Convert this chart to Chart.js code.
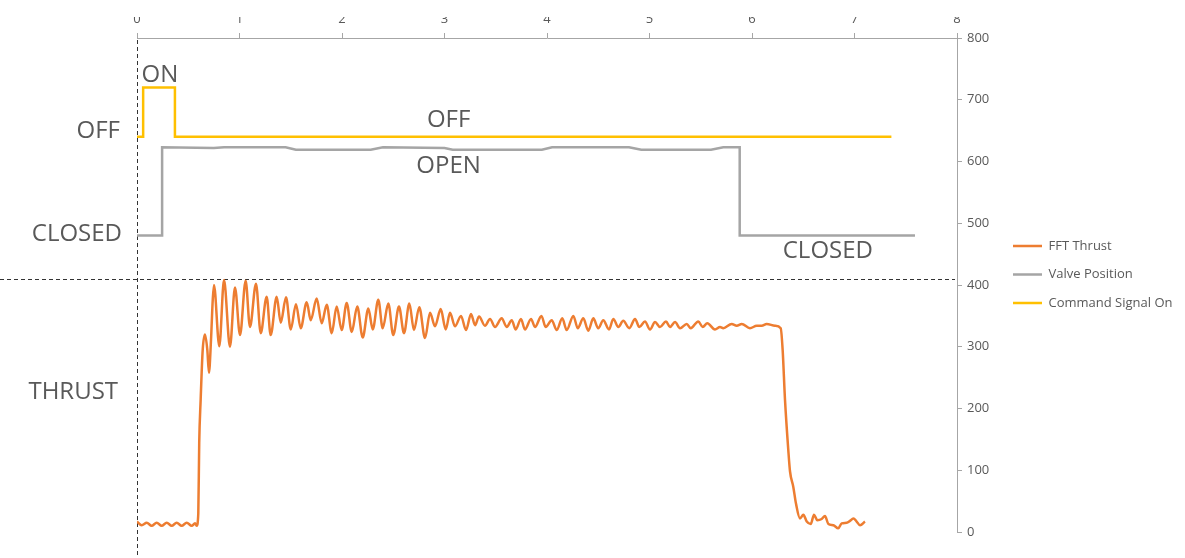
<!DOCTYPE html>
<html>
<head>
<meta charset="utf-8">
<script src="https://cdn.jsdelivr.net/npm/chart.js@4.4.1/dist/chart.umd.min.js"></script>
<style>
  html, body { margin: 0; padding: 0; background: #ffffff; }
  #wrap { width: 1185px; height: 558px; }
</style>
</head>
<body>
<div id="wrap"><canvas id="c" width="1185" height="558"></canvas></div>
<script>
// ---- data ----
const seriesNames = ['FFT Thrust', 'Valve Position', 'Command Signal On'];
const xTicks = [0, 1, 2, 3, 4, 5, 6, 7, 8];
const yTicks = [0, 100, 200, 300, 400, 500, 600, 700, 800];

// thrust trace, time (s) of each turning point and its value
const thrustTime = [
  0.000, 0.046, 0.095, 0.143, 0.192, 0.241, 0.290, 0.339, 0.387, 0.436, 0.485, 0.534, 0.566, 0.582,
  0.598, 0.607, 0.621, 0.641, 0.663, 0.686, 0.702, 0.722, 0.739,
  0.751, 0.803, 0.849, 0.907, 0.956, 1.005, 1.060, 1.102, 1.161, 1.207, 1.265, 1.304, 1.363, 1.402,
  1.454, 1.500, 1.551, 1.597, 1.656, 1.695, 1.753, 1.802, 1.851, 1.900, 1.948, 1.997, 2.046, 2.095,
  2.149, 2.202, 2.257, 2.300, 2.354, 2.397, 2.452, 2.500, 2.556, 2.605, 2.657, 2.702, 2.754, 2.810,
  2.859, 2.907, 2.963, 3.012, 3.054, 3.102, 3.161, 3.210, 3.259, 3.298, 3.337, 3.395, 3.444, 3.493,
  3.558, 3.607, 3.656, 3.695, 3.746, 3.785, 3.844, 3.883, 3.946, 3.987, 4.046, 4.095, 4.149, 4.192,
  4.257, 4.300, 4.354, 4.403, 4.452, 4.500, 4.549, 4.605, 4.647, 4.696, 4.744, 4.803, 4.859, 4.901,
  4.956, 5.005, 5.054, 5.102, 5.161, 5.200, 5.249, 5.298, 5.363, 5.402, 5.476, 5.519, 5.564, 5.639,
  5.688, 5.720, 5.802, 5.851, 5.900, 5.980, 6.046, 6.095, 6.143, 6.224, 6.280,
  6.299, 6.322, 6.354, 6.371, 6.403, 6.429, 6.468, 6.501, 6.534, 6.573, 6.605, 6.637, 6.680, 6.712,
  6.745, 6.793, 6.842, 6.875, 6.924, 6.956, 6.989, 7.021, 7.054, 7.102
];
const thrustValue = [
  17, 11, 15, 10, 15, 10, 15, 10, 15, 10, 15, 10, 14, 10,
  30, 144, 214, 295, 320, 295, 258, 311, 376,
  400, 301, 408, 300, 396, 319, 407, 332, 402, 322, 381, 319, 381, 339,
  380, 328, 369, 330, 372, 343, 378, 338, 368, 322, 365, 327, 371, 324,
  365, 315, 362, 328, 376, 330, 370, 319, 365, 322, 370, 327, 364, 314,
  355, 333, 361, 328, 355, 333, 350, 327, 353, 335, 349, 334, 345, 332,
  346, 332, 343, 328, 345, 328, 345, 332, 350, 332, 343, 327, 346, 327,
  350, 330, 346, 326, 346, 330, 343, 328, 345, 332, 342, 330, 345, 332,
  341, 328, 340, 332, 341, 332, 340, 330, 337, 330, 341, 332, 338, 328,
  332, 330, 337, 334, 337, 330, 334, 334, 337, 334, 330,
  295, 214, 133, 98, 73, 46, 22, 28, 17, 13, 28, 19, 21, 26,
  13, 11, 6, 14, 15, 18, 22, 17, 11, 17
];

// valve position trace
const valveTime  = [0, 0.245, 0.245, 0.75, 0.85, 1.45, 1.55, 2.28, 2.40, 3.00, 3.08, 3.95, 4.05, 4.80, 4.92, 5.60, 5.72, 5.88, 5.88, 7.59];
const valveValue = [480, 480, 623, 622, 623, 623, 619, 619, 623, 622, 619, 619, 623, 623, 619, 619, 623, 623, 480, 480];

// command signal trace
const commandTime  = [0, 0.06, 0.06, 0.37, 0.37, 7.36];
const commandValue = [640, 640, 720, 720, 640, 640];

// state labels written on the plot, anchored in axis units
const stateLabels = [
  { text: 'ON',     t: 0.224,  v: 740, align: 'center' },
  { text: 'OFF',    t: -0.166, v: 649, align: 'right' },
  { text: 'CLOSED', t: -0.146, v: 483, align: 'right' },
  { text: 'THRUST', t: -0.185, v: 227, align: 'right' },
  { text: 'OFF',    t: 3.04,   v: 667, align: 'center' },
  { text: 'OPEN',   t: 3.04,   v: 593, align: 'center' },
  { text: 'CLOSED', t: 6.74,   v: 455, align: 'center' }
];
const splitLevel = 410;   // horizontal divider between the signal and thrust panels

// ---- chart ----
const zip = (xs, ys) => xs.map((x, i) => ({ x: x, y: ys[i] }));

const TEXT = '#595959';
const AXIS = '#a6a6a6';
const FONT = '"Open Sans", "Noto Sans", sans-serif';

// legend geometry
const legendFont = 13, legendPad = 15.5, legendBox = 29;
const mctx = document.createElement('canvas').getContext('2d');
mctx.font = legendFont + 'px ' + FONT;
const longest = Math.max(...seriesNames.map(s => mctx.measureText(s).width));
const legendWidth = legendPad + legendBox + legendFont / 2 + longest + 10;
const legendLeft = 1013 - legendPad;
const plotRight = 957;
const padRight = Math.max(0, 1185 - legendLeft - legendWidth);

const overlay = {
  id: 'overlay',
  beforeDatasetsDraw(chart) {
    const { ctx, chartArea, scales: { x, y } } = chart;
    ctx.save();
    ctx.strokeStyle = '#333333';
    ctx.lineWidth = 1;
    ctx.setLineDash([4, 3]);
    const x0 = Math.round(x.getPixelForValue(0)) + 0.5;
    ctx.beginPath();
    ctx.moveTo(x0, chartArea.top + 2);
    ctx.lineTo(x0, chart.height);
    ctx.stroke();
    const ys = Math.round(y.getPixelForValue(splitLevel)) + 0.5;
    ctx.beginPath();
    ctx.moveTo(0, ys);
    ctx.lineTo(chartArea.right - 2, ys);
    ctx.stroke();
    ctx.restore();
  },
  afterDatasetsDraw(chart) {
    const { ctx, scales: { x, y } } = chart;
    ctx.save();
    ctx.fillStyle = TEXT;
    ctx.font = '24px ' + FONT;
    ctx.textBaseline = 'middle';
    stateLabels.forEach(l => {
      ctx.textAlign = l.align;
      ctx.fillText(l.text, x.getPixelForValue(l.t), y.getPixelForValue(l.v));
    });
    ctx.restore();
  }
};

new Chart(document.getElementById('c'), {
  type: 'line',
  data: {
    datasets: [
      {
        label: seriesNames[0],
        data: zip(thrustTime, thrustValue),
        borderColor: '#ED7D31',
        backgroundColor: '#ED7D31',
        borderWidth: 2.5,
        pointRadius: 0,
        cubicInterpolationMode: 'monotone'
      },
      {
        label: seriesNames[1],
        data: zip(valveTime, valveValue),
        borderColor: '#A5A5A5',
        backgroundColor: '#A5A5A5',
        borderWidth: 2.5,
        pointRadius: 0,
        tension: 0
      },
      {
        label: seriesNames[2],
        data: zip(commandTime, commandValue),
        borderColor: '#FFC000',
        backgroundColor: '#FFC000',
        borderWidth: 2.5,
        pointRadius: 0,
        tension: 0
      }
    ]
  },
  options: {
    responsive: false,
    animation: false,
    devicePixelRatio: 1,
    layout: { padding: { left: 137, top: 17, right: padRight, bottom: 26 } },
    plugins: {
      legend: {
        position: 'right',
        labels: {
          usePointStyle: true,
          pointStyle: 'line',
          pointStyleWidth: legendBox,
          padding: legendPad,
          color: TEXT,
          font: { family: FONT, size: legendFont }
        }
      },
      tooltip: { enabled: false }
    },
    scales: {
      x: {
        type: 'linear',
        position: 'top',
        min: 0, max: 8,
        afterBuildTicks: s => { s.ticks = xTicks.map(v => ({ value: v })); },
        afterFit: s => { s.height = 21; },
        grid: { drawOnChartArea: false, tickLength: 5, color: AXIS, tickColor: AXIS },
        border: { color: AXIS, width: 1 },
        ticks: { color: TEXT, font: { family: FONT, size: 13 }, padding: 6, maxRotation: 0 }
      },
      y: {
        type: 'linear',
        position: 'right',
        min: 0, max: 800,
        afterBuildTicks: s => { s.ticks = yTicks.map(v => ({ value: v })); },
        afterFit: s => { s.width = legendLeft - plotRight; },
        grid: { drawOnChartArea: false, tickLength: 5, color: AXIS, tickColor: AXIS },
        border: { color: AXIS, width: 1 },
        ticks: { color: TEXT, font: { family: FONT, size: 13 }, padding: 5 }
      }
    }
  },
  plugins: [overlay]
});
</script>
</body>
</html>
